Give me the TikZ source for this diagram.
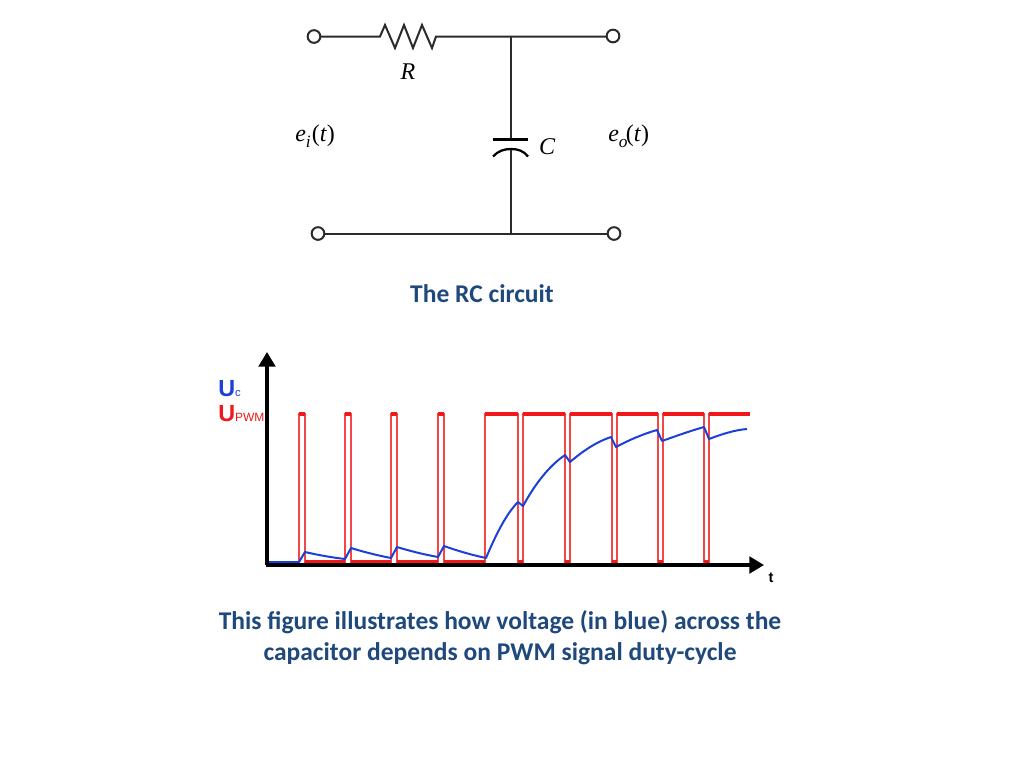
\documentclass[tikz,border=0pt]{standalone}
\usepackage{fontspec}
\setmainfont{Liberation Serif}
\newfontfamily\capfont{Carlito}
\newfontfamily\axfont{Liberation Sans}
\usetikzlibrary{arrows.meta}
\definecolor{wire}{HTML}{2B2B2B}
\definecolor{captionblue}{HTML}{1F497D}
\definecolor{pwmred}{HTML}{F01818}
\definecolor{ucblue}{HTML}{1C3FD8}
\tikzset{
  wireline/.style={draw=wire,line width=1.5pt},
  terminal/.style={circle,draw=wire,fill=white,line width=1.5pt,minimum size=9.5pt,inner sep=0pt},
  circuitlabel/.style={font=\fontsize{18}{20}\selectfont,text=black,inner sep=0pt},
  caption/.style={font=\capfont\bfseries\fontsize{19.15}{23.2}\selectfont,text=captionblue,align=center,inner sep=0pt},
  axisline/.style={draw=black,line width=2.4pt,-{Triangle[length=11pt,width=12.5pt]}},
  pwmthin/.style={draw=pwmred!80,line width=0.85pt},
  pwmthick/.style={draw=pwmred,line width=2.8pt},
  pwmlow/.style={draw=pwmred,line width=2pt},
  ucline/.style={draw=ucblue,line width=1.5pt,line join=round},
  axlabel/.style={font=\axfont,inner sep=0pt}
}
\begin{document}
\begin{tikzpicture}[x=0.75pt,y=-0.75pt]
\useasboundingbox (0,0) rectangle (1024,768);
% circuit
\coordinate (rl) at (380,36.5);
\coordinate (rr) at (436,36.5);
\coordinate (jt) at (511,36.5);
\coordinate (jb) at (511,233);
\coordinate (capt) at (511,139.5);
\coordinate (capb) at (511,149);
\draw[wireline] (314,36.5) -- (rl) -- (385,25) -- (395,48) -- (404,25) -- (413,48) -- (422,25) -- (432,48) -- (rr) -- (613,36.5);
\node[terminal] (a1) at (314,36.5) {};
\node[terminal] (a2) at (613,36) {};
\node[terminal] (b1) at (318,233.5) {};
\node[terminal] (b2) at (614,233.5) {};
\draw[wireline] (b1) -- (b2);
\draw[wireline] (jt) -- (capt);
\draw[wireline] (capb) -- (jb);
\draw[draw=black,line width=1.7pt] (493,139.5) -- (528,139.5);
\draw[draw=black,line width=1.7pt] (493,156.5) .. controls (498,151) and (504,149) .. (511,149) .. controls (518,149) and (524,151) .. (528,156.5);
\node[circuitlabel] (rlab) at (408,72) {\itshape R};
\node[circuitlabel] (clab) at (547,147) {\itshape C};
\node[circuitlabel,anchor=base west] (ei) at (295,141) {\itshape e\raisebox{-4.5pt}{\fontsize{13}{13}\selectfont i}\kern0.8pt\upshape(\textit{t})};
\node[circuitlabel,anchor=base west] (eo) at (608,141) {\itshape e\raisebox{-4.5pt}{\fontsize{13}{13}\selectfont o}\kern-1.2pt\upshape(\textit{t})};
\node[caption] (cap1) at (482,293.5) {The RC circuit};
% chart
\coordinate (org) at (267,565);
\coordinate (ytop) at (267,352);
\coordinate (xend) at (764,565);
% PWM thin edges
\draw[pwmthin] (268,562) -- (299,562) -- (299,414) -- (305,414) -- (305,562)
  -- (345,562) -- (345,414) -- (351,414) -- (351,562)
  -- (391,562) -- (391,414) -- (397,414) -- (397,562)
  -- (438,562) -- (438,414) -- (444,414) -- (444,562)
  -- (485,562) -- (485,414) -- (518,414) -- (518,562)
  -- (523,562) -- (523,414) -- (565,414) -- (565,562)
  -- (570,562) -- (570,414) -- (612,414) -- (612,562)
  -- (617,562) -- (617,414) -- (658,414) -- (658,562)
  -- (663,562) -- (663,414) -- (704,414) -- (704,562)
  -- (709,562) -- (709,414) -- (750,414);
% PWM thick flats
\foreach \a/\b in {299/305,345/351,391/397,438/444,485/518,523/565,570/612,617/658,663/704,709/750}
  \draw[pwmthick] (\a,414) -- (\b,414);
\foreach \a/\b in {305/345,351/391,397/438,444/485,518/523,565/570,612/617,658/663,704/709}
  \draw[pwmlow] (\a,561.7) -- (\b,561.7);
% Uc
\draw[ucline] (268,562) -- (299,562) -- (305,552) .. controls (318,555) and (332,557.5) .. (345,559) -- (351,548) .. controls (364,552) and (378,555.5) .. (391,558) -- (397,547) .. controls (410,551) and (424,554.5) .. (438,557) -- (444,546) .. controls (458,551) and (472,555) .. (486,558)
  .. controls (497,532) and (507,513) .. (518,502) -- (523,506)
  .. controls (535,484) and (549,466) .. (565,455) -- (570,462)
  .. controls (583,451) and (596,442) .. (611,437) -- (616,447)
  .. controls (629,440) and (643,434) .. (657,430) -- (662,441)
  .. controls (676,436) and (690,431) .. (704,427) -- (709,439)
  .. controls (722,434) and (735,430) .. (747,429);
\draw[axisline] (org) -- (ytop);
\draw[axisline] ([xshift=-1pt]org) -- (xend);
\node[axlabel,anchor=base west,text=ucblue] (uc) at (218,396) {\bfseries\fontsize{17.5}{18}\selectfont U\mdseries\fontsize{8.5}{9}\selectfont c};
\node[axlabel,anchor=base west,text=pwmred] (upwm) at (218,421.5) {\bfseries\fontsize{17.5}{18}\selectfont U\mdseries\fontsize{9}{9}\selectfont PWM};
\node[axlabel] (tlab) at (771,578) {\bfseries\fontsize{11}{11}\selectfont t};
\node[caption] (cap2) at (500,637.5) {This figure illustrates how voltage (in blue) across the\\capacitor depends on PWM signal duty-cycle};
\end{tikzpicture}
\end{document}
